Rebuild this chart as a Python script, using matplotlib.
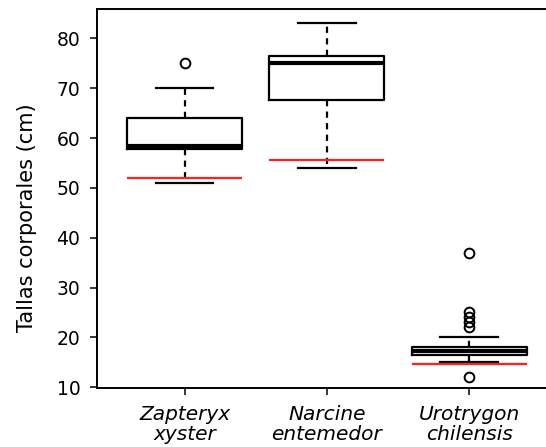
import numpy as np
import matplotlib.pyplot as plt

species = ["Zapteryx\nxyster", "Narcine\nentemedor", "Urotrygon\nchilensis"]
q1 = [57.8, 67.6, 16.4]
medians = [58.5, 75.1, 17.2]
q3 = [64.1, 76.5, 18.0]
whis_lo = [51.0, 54.0, 15.0]
whis_hi = [70.0, 83.0, 20.0]
fliers = [[75.0], [], [37.0, 25.0, 24.0, 23.0, 22.0, 12.0]]
red_vals = [52.0, 55.6, 14.6]

stats = []
for i in range(len(species)):
    stats.append(dict(med=medians[i], q1=q1[i], q3=q3[i],
                      whislo=whis_lo[i], whishi=whis_hi[i],
                      fliers=np.array(fliers[i]), label=species[i]))

fig = plt.figure(figsize=(5.46, 4.47), dpi=100)
ax = fig.add_axes([0.1777, 0.132, 0.8223, 0.848])

pos = np.arange(1, len(species) + 1)
bw = 0.81
ax.bxp(stats, positions=pos, widths=bw, manage_ticks=False,
       boxprops=dict(color="black", linewidth=1.6),
       medianprops=dict(color="black", linewidth=3.0, solid_capstyle="butt"),
       whiskerprops=dict(color="black", linewidth=1.6, linestyle=(0, (2.8, 2.4))),
       capprops=dict(color="black", linewidth=1.6),
       capwidths=bw / 2,
       flierprops=dict(marker="o", markerfacecolor="none", markeredgecolor="black",
                       markersize=7, markeredgewidth=1.4))

ax.hlines(red_vals, pos - bw / 2, pos + bw / 2, color="#ff2020", linewidth=1.6, zorder=3)

ax.set_xlim(0.385, 3.54)
ax.set_ylim(9.85, 85.9)
ax.set_xticks(pos)
ax.set_xticklabels(species, fontsize=14.5, style="italic", linespacing=1.12)
ax.set_yticks(np.arange(10, 81, 10))
ax.tick_params(axis="y", labelsize=13.5, length=5, width=1.1, pad=7, direction="out")
ax.tick_params(axis="x", length=5, width=1.1, pad=7, direction="out")
ax.set_ylabel("Tallas corporales (cm)", fontsize=15)
ax.yaxis.set_label_coords(-0.134, 0.45)

ax.spines["right"].set_visible(False)
for s in ["left", "top", "bottom"]:
    ax.spines[s].set_linewidth(1.4)

fig.savefig("out.png", dpi=100)
